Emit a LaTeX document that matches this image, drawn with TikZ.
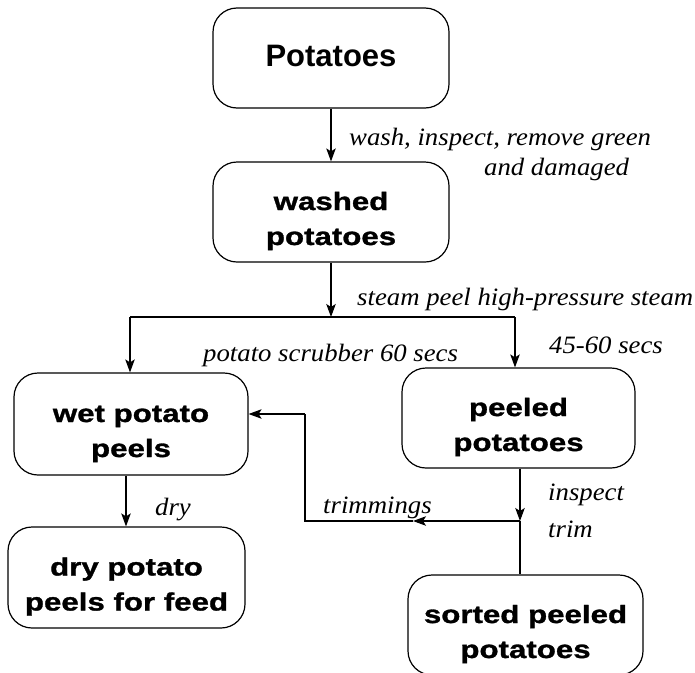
\documentclass[tikz,border=0pt]{standalone}
\usepackage{fontspec}
\setmainfont{Liberation Serif}
\setsansfont{Liberation Sans}
\newfontfamily\boxfont[FakeStretch=1.25,FakeBold=1.2]{Liberation Sans Bold}
\newfontfamily\topfont{Liberation Sans Bold}
\newfontfamily\lblfont[FakeStretch=1.07]{Liberation Serif Italic}
\usetikzlibrary{arrows.meta,calc}
\tikzset{
  procbox/.style={draw, line width=1.2pt, rounded corners=24pt, align=center,
    font=\boxfont\fontsize{25}{35}\selectfont, inner sep=0pt,
    text height=68pt, text depth=2pt},
  lbl/.style={font=\lblfont\fontsize{25}{30}\selectfont, inner sep=0pt, anchor=base west},
  conn/.style={line width=1.1pt},
  arr/.style={conn, -{Stealth[length=13pt,width=9.5pt,inset=3pt]}},
}
\begin{document}
\begin{tikzpicture}[x=1pt,y=-1pt]
\useasboundingbox (0,0) rectangle (695,672);
\node[procbox, font=\topfont\fontsize{31}{36}\selectfont, text height=22pt, text depth=4.5pt,
  minimum width=236pt, minimum height=100pt] (pot) at (331,58) {Potatoes};
\node[procbox, minimum width=236pt, minimum height=100pt] (wash) at (331,212) {washed\\potatoes};
\node[procbox, minimum width=234pt, minimum height=102pt] (wet) at (131,424) {wet potato\\peels};
\node[procbox, minimum width=233pt, minimum height=100pt] (peel) at (518.5,418) {peeled\\potatoes};
\node[procbox, minimum width=237pt, minimum height=101pt] (dry) at (126.5,577.5) {dry potato\\peels for feed};
\node[procbox, minimum width=235pt, minimum height=100pt] (sorted) at (525.5,625) {sorted peeled\\potatoes};

\coordinate (j) at (331,317);
\coordinate (jl) at (130,317);
\coordinate (jr) at (515,317);
\coordinate (t) at (520,521);
\coordinate (tm) at (413,521);
\coordinate (tc) at (305,521);
\coordinate (tu) at (305,414);

\draw[arr] (pot.south) -- (wash.north);
\draw[arr] (wash.south) -- (j);
\draw[line width=2.4pt] (jl) -- (jr);
\draw[arr] (jl) -- (jl |- wet.north);
\draw[arr] (jr) -- (jr |- peel.north);
\draw[arr] (peel.south -| t) -- (t);
\draw[conn] (t) -- (t |- sorted.north);
\draw[arr] (t) -- (tm);
\draw[conn] (tm) -- (tc) -- (tu);
\draw[arr] (tu) -- (tu -| wet.east);
\draw[arr] (126,0 |- wet.south) -- (126,0 |- dry.north);

\node[lbl] (l1) at (349,145) {wash, inspect, remove green};
\node[lbl] (l2) at (484,175) {and damaged};
\node[lbl] (l3) at (357,305) {steam peel high-pressure steam};
\node[lbl] (l4) at (549,353) {45-60 secs};
\node[lbl] (l5) at (203,361) {potato scrubber 60 secs};
\node[lbl] (l6) at (323,513) {trimmings};
\node[lbl] (l7) at (548,500) {inspect};
\node[lbl] (l8) at (548,537) {trim};
\node[lbl] (l9) at (155,515) {dry};
\end{tikzpicture}
\end{document}
